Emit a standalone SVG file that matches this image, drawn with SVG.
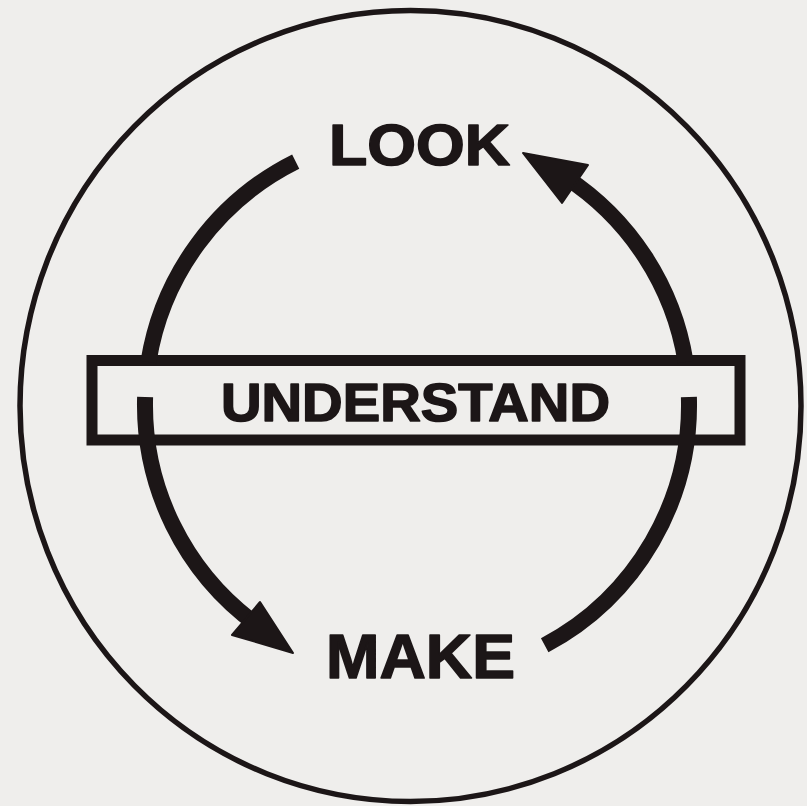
<svg xmlns="http://www.w3.org/2000/svg" width="807" height="806" viewBox="0 0 807 806">
  <defs>
    <style>
      .ink { fill: none; stroke: #1c1617; }
      .arc { fill: none; stroke: #1c1617; stroke-width: 16; stroke-linecap: butt; }
      .head { fill: #1c1617; stroke: #1c1617; stroke-width: 2; stroke-linejoin: round; }
      .label { font-family: "Liberation Sans", Arial, sans-serif; font-weight: bold; fill: #1c1617; stroke: #1c1617; stroke-width: 1.6; stroke-linejoin: round; }
    </style>
  </defs>

  <!-- paper -->
  <rect x="0" y="0" width="807" height="806" fill="#efeeec"/>

  <!-- outer boundary circle -->
  <g id="frame">
    <ellipse cx="410.5" cy="406" rx="390.5" ry="395.5" class="ink" stroke-width="5.5"/>
  </g>

  <!-- central bar -->
  <g id="understand">
    <rect x="92" y="360.5" width="648" height="79.5" fill="#efeeec" stroke="#1c1617" stroke-width="11" stroke-linejoin="miter"/>
    <text class="label" x="221" y="421" font-size="54" textLength="389" lengthAdjust="spacingAndGlyphs">UNDERSTAND</text>
  </g>

  <g id="look">
    <text class="label" x="329" y="165" font-size="58" textLength="181" lengthAdjust="spacingAndGlyphs">LOOK</text>
  </g>

  <g id="make">
    <text class="label" x="326" y="678" font-size="63" textLength="189" lengthAdjust="spacingAndGlyphs">MAKE</text>
  </g>

  <!-- cycle arrows around the bar -->
  <g id="connectors">
    <!-- LOOK down the left side into the bar -->
    <path class="arc" d="M 295.7 161.6 A 272 272 0 0 0 148.4 362"/>
    <!-- out of the bar down to MAKE -->
    <path class="arc" d="M 145.1 397 A 272 272 0 0 0 257.1 625"/>
    <polygon class="head" points="293,653 260,602 232,635"/>
    <!-- MAKE up the right side into the bar -->
    <path class="arc" d="M 544.7 645.2 A 272 272 0 0 0 688.9 397"/>
    <!-- out of the bar up to LOOK -->
    <path class="arc" d="M 685.6 362 A 272 272 0 0 0 565.1 176.9"/>
    <polygon class="head" points="523,153 588,165 562,203"/>
  </g>
</svg>
